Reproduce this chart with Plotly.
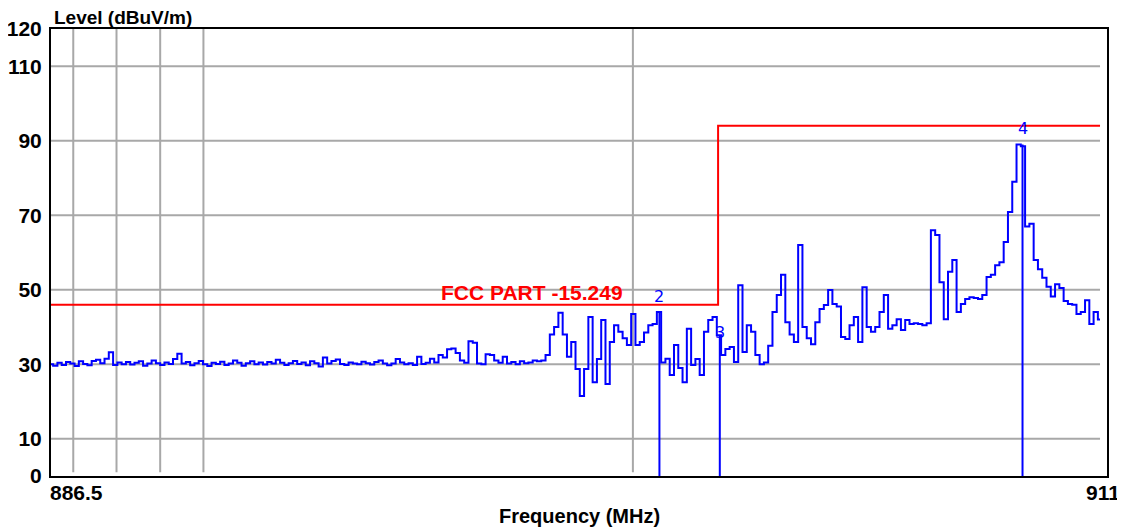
import numpy as np
import plotly.graph_objects as go

# ---------------- data ----------------
f_start, f_stop, f_step = 886.5, 911.0, 0.1
levels = [
    # 886.5 - 887.4
    30.0, 29.6, 30.4, 29.8, 30.6, 30.2, 29.5, 30.8, 30.1, 29.7,
    30.9, 31.2, 30.3, 31.5, 33.2, 29.8, 30.5, 30.0, 30.6, 29.9,
    30.4, 30.8, 29.6, 30.2, 31.0, 30.3, 29.8, 30.5, 30.1, 31.4,
    32.8, 30.2, 30.6, 29.7, 30.3, 30.9, 30.0, 29.5, 30.4, 30.1,
    30.7, 29.8, 30.2, 31.0, 30.4, 29.6, 30.3, 30.8, 30.0, 30.5,
    29.9, 30.6, 30.2, 31.2, 30.4, 29.8, 30.3, 30.9, 30.1, 30.5,
    29.7, 30.8, 30.3, 29.4, 31.8, 30.2, 30.9, 31.3, 30.1, 29.8,
    30.5, 30.2, 30.0, 30.7, 30.3, 29.9, 30.6, 31.0, 30.2, 29.7,
    30.2, 31.4, 30.5, 30.0, 30.3, 29.8, 32.0, 30.1, 30.4, 31.5,
    30.5, 32.5, 31.8, 34.0, 34.2, 33.0, 31.0, 30.4, 36.2, 35.8,
    30.2, 30.0, 32.7, 32.5, 31.0, 30.4, 32.0, 30.2, 30.6, 30.0,
    30.8, 30.3, 30.5, 31.0,
    # 897.9 onwards
    30.8, 31.0, 32.5, 38.0, 40.0, 43.8, 38.0, 32.0, 36.0, 28.7,
    21.5, 28.7, 42.7, 25.2, 31.4, 41.9, 24.7, 36.0, 40.5, 38.7,
    37.0, 35.2, 43.5, 35.2, 36.0, 38.5, 40.5, 40.8, 44.0, 30.5,
    31.5, 27.1, 35.2, 29.0, 25.2, 39.5, 29.8, 31.4, 27.1, 38.7,
    41.9, 42.7, 37.8, 32.5, 34.1, 34.6, 30.6, 51.2, 33.3, 40.5,
    38.7, 32.5, 30.0, 30.5, 35.0, 44.0, 48.6, 54.0, 41.3, 38.0,
    36.0, 62.0, 40.0, 37.0, 35.4, 41.3, 44.8, 45.9, 49.9, 46.2,
    45.5, 37.3, 36.8, 40.5, 42.7, 36.0, 50.7, 40.0, 38.7, 40.0,
    44.0, 48.6, 39.5, 40.5, 42.1, 39.2, 41.9, 40.8, 41.0, 40.8,
    40.5, 41.0, 66.0, 64.7, 52.0, 42.1, 54.8, 58.0, 44.0, 46.2,
    47.5, 48.0, 47.8, 47.5, 48.6, 53.4, 54.0, 56.6, 57.4, 62.8,
    70.9, 79.0, 89.0, 88.5, 67.0, 67.7, 58.0, 55.5, 53.2, 50.8,
    48.2, 51.5, 50.5, 47.0, 46.2, 46.0, 43.5, 44.0, 47.2, 40.8,
    44.0, 42.0,
]
freqs = np.round(f_start + f_step * np.arange(len(levels)), 3)

limit_freqs = [886.5, 902.08, 911.0]
limit_levels = [46, 94, 94]
limit_name = "FCC PART -15.249"

marker_ids = ["2", "3", "4"]
marker_freqs = [900.71, 902.12, 909.19]
marker_levels = [44.0, 37.8, 89.0]
marker_label_levels = [48.3, 38.4, 93.4]

y_ticks = [0, 10, 30, 50, 70, 90, 110, 120]
grid_levels = [10, 30, 50, 70, 90, 110]
grid_freqs = [887.02, 888.03, 889.05, 890.06, 900.09]
x_range = [886.5, 911.163]
x_labels = ["886.5", "911"]

BLUE = "#0000ff"
RED = "#ff0000"
GRID = "#a8a8a8"
FONT = "Liberation Sans"

fig = go.Figure()

# grid shapes
shapes = []
for g in grid_levels:
    shapes.append(dict(type="line", xref="x", yref="y", x0=f_start, x1=f_stop,
                       y0=g, y1=g, line=dict(color=GRID, width=2), layer="below"))
for g in grid_freqs:
    shapes.append(dict(type="line", xref="x", yref="y", x0=g, x1=g,
                       y0=1, y1=120, line=dict(color=GRID, width=2), layer="below"))

# limit line
fig.add_trace(go.Scatter(x=limit_freqs, y=limit_levels, mode="lines",
                         line=dict(color=RED, width=2, shape="hv"),
                         hoverinfo="skip", showlegend=False))

# spectrum trace
fig.add_trace(go.Scatter(x=freqs, y=levels, mode="lines",
                         line=dict(color=BLUE, width=2, shape="hvh"),
                         showlegend=False))

# marker lines
mx, my = [], []
for f, l in zip(marker_freqs, marker_levels):
    mx += [f, f, None]
    my += [0, l, None]
fig.add_trace(go.Scatter(x=mx, y=my, mode="lines",
                         line=dict(color=BLUE, width=2),
                         hoverinfo="skip", showlegend=False))

annotations = []
for mid, f, ly in zip(marker_ids, marker_freqs, marker_label_levels):
    annotations.append(dict(x=f, y=ly, xref="x", yref="y", text=mid, showarrow=False,
                            font=dict(family="DejaVu Sans", size=16, color=BLUE),
                            xanchor="center", yanchor="middle"))

annotations.append(dict(x=899.9, y=limit_levels[0], xref="x", yref="y",
                        text=limit_name, showarrow=False,
                        font=dict(family=FONT, size=21, color=RED, weight="bold"),
                        xanchor="right", yanchor="middle", yshift=12))

annotations.append(dict(x=0.0, y=0, xref="paper", yref="paper", text=x_labels[0],
                        showarrow=False, xanchor="left", yanchor="top", yshift=-3,
                        xshift=-3,
                        font=dict(family=FONT, size=21, color="black", weight="bold")))
annotations.append(dict(x=1.0, y=0, xref="paper", yref="paper", text=x_labels[1],
                        showarrow=False, xanchor="right", yanchor="top", yshift=-3,
                        xshift=15,
                        font=dict(family=FONT, size=21, color="black", weight="bold")))
annotations.append(dict(x=0.5, y=-0.09, xref="paper", yref="paper",
                        text="Frequency (MHz)", showarrow=False,
                        xanchor="center", yanchor="middle",
                        font=dict(family=FONT, size=20, color="black", weight="bold")))
annotations.append(dict(x=0.002, y=1.0, xref="paper", yref="paper",
                        text="Level (dBuV/m)", showarrow=False,
                        xanchor="left", yanchor="bottom", borderpad=0,
                        font=dict(family=FONT, size=19, color="black", weight="bold")))

# page body adds an 8px offset; compensate in size and margins
fig.update_layout(
    width=1117, height=522,
    autosize=False,
    margin=dict(l=43, r=18, t=21, b=54, pad=0, autoexpand=False),
    paper_bgcolor="white", plot_bgcolor="white",
    shapes=shapes, annotations=annotations,
    xaxis=dict(range=x_range, showgrid=False, zeroline=False, showticklabels=False,
               showline=True, linecolor="black", linewidth=2, mirror=True, ticks="",
               automargin=False),
    yaxis=dict(range=[0, 120], tickvals=y_ticks, showgrid=False, zeroline=False,
               showline=True, linecolor="black", linewidth=2, mirror=True, ticks="",
               ticklabelstandoff=3, automargin=False,
               tickfont=dict(family=FONT, size=21, color="black", weight="bold")),
)

fig.write_html("out.html")
